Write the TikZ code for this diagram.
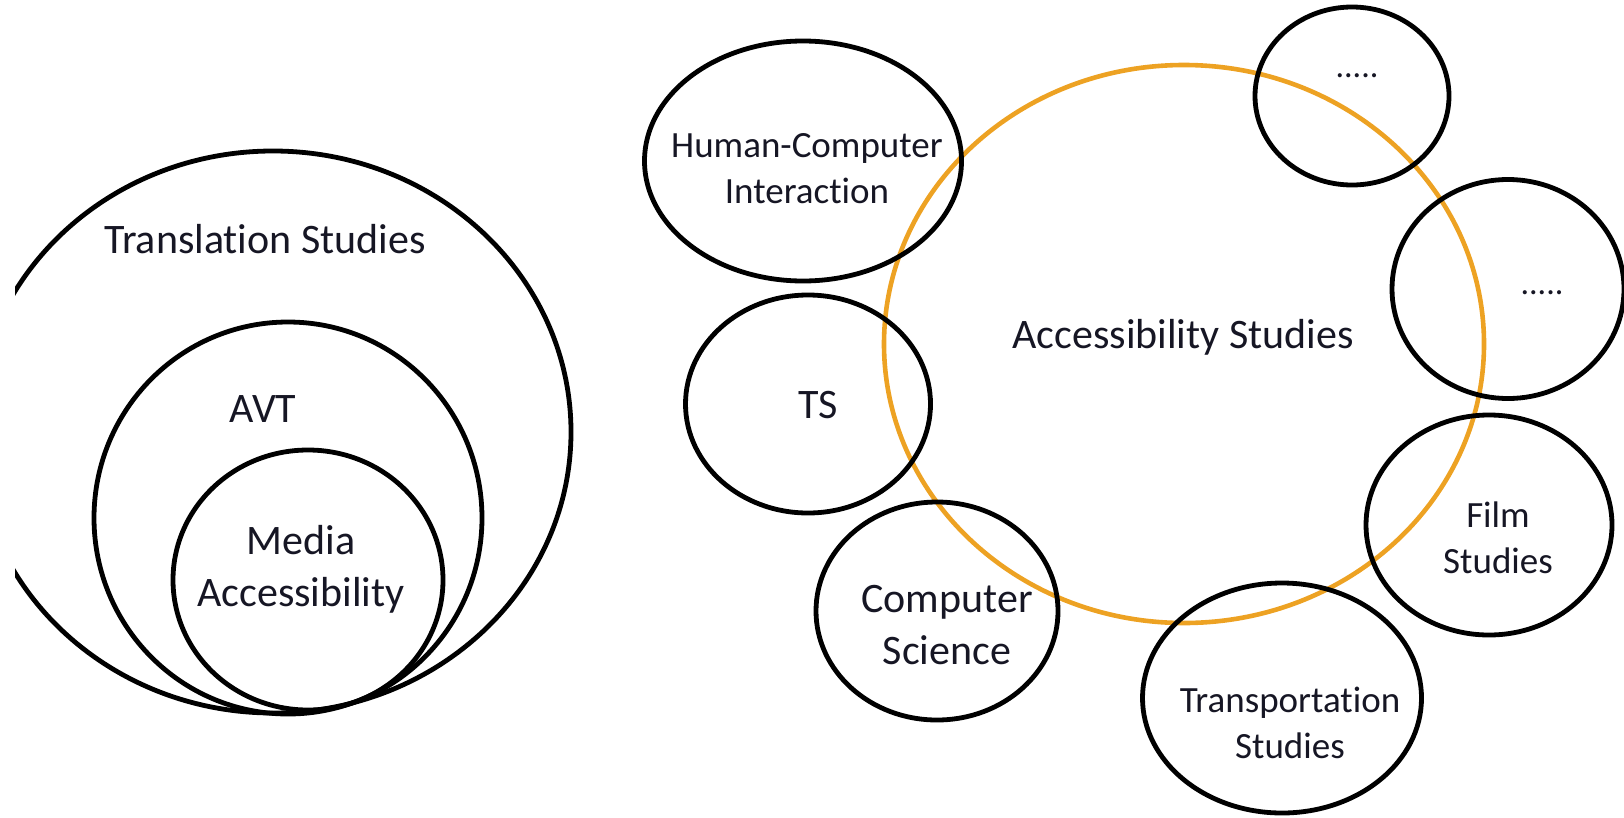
\documentclass[tikz,border=0pt]{standalone}
\usepackage{fontspec}
\setmainfont[Ligatures=CommonOff]{Carlito}
\usetikzlibrary{shapes.geometric}
\definecolor{accorange}{RGB}{237,162,35}
\definecolor{inktext}{RGB}{22,22,36}

\begin{document}
\begin{tikzpicture}[x=1pt, y=-1pt,
  field/.style={ellipse, draw=black, line width=4.8pt, inner sep=0pt},
  lbl/.style={align=center, inner sep=0pt, text=inktext, font=\fontsize{42}{52}\selectfont},
  lblsm/.style={align=center, inner sep=0pt, text=inktext, font=\fontsize{37}{46}\selectfont},
  dotlbl/.style={inner sep=0pt, text=inktext, font=\fontsize{34}{40}\selectfont}]
\useasboundingbox (0,0) rectangle (1624,817);

% left: nested fields
\begin{scope}
\clip (15,0) rectangle (1624,817);
\node[field, minimum width=596pt, minimum height=562pt] (trst) at (273,432) {};
\end{scope}
\node[field, minimum width=388pt, minimum height=392pt] (avt) at (288,518) {};
\node[field, minimum width=270pt, minimum height=260pt] (media) at (308,580) {};
\node[lbl] (trstlbl) at (265,239) {Translation Studies};
\node[lbl] (avtlbl) at (263,409) {AVT};
\node[lbl] (medialbl) at (301,569) {Media\\Accessibility};

% right: accessibility studies and its neighbours
\node[ellipse, draw=accorange, line width=4.6pt, inner sep=0pt, minimum width=600pt, minimum height=558pt] (acc) at (1184,344) {};
\node[field, minimum width=317pt, minimum height=240pt] (hci) at (803,161) {};
\node[field, minimum width=245pt, minimum height=218pt] (ts) at (808,404) {};
\node[field, minimum width=242pt, minimum height=218pt] (cs) at (937,611) {};
\node[field, minimum width=279pt, minimum height=230pt] (trans) at (1282,698) {};
\node[field, minimum width=246pt, minimum height=220pt] (film) at (1489,525) {};
\node[field, minimum width=232pt, minimum height=219pt] (moreA) at (1508,289) {};
\node[field, minimum width=194pt, minimum height=178pt] (moreB) at (1352,96) {};

\node[lbl] (acclbl) at (1183,337) {Accessibility Studies};
\node[lblsm] (hcilbl) at (807,169) {Human-Computer\\Interaction};
\node[lbl] (tslbl) at (818,405) {TS};
\node[lbl] (cslbl) at (947,625) {Computer\\Science};
\node[lblsm] (translbl) at (1290,723) {Transportation\\Studies};
\node[lblsm] (filmlbl) at (1498,538) {Film\\Studies};
\node[dotlbl] (moreAlbl) at (1542,293) {.....};
\node[dotlbl] (moreBlbl) at (1357,76) {.....};
\end{tikzpicture}
\end{document}
